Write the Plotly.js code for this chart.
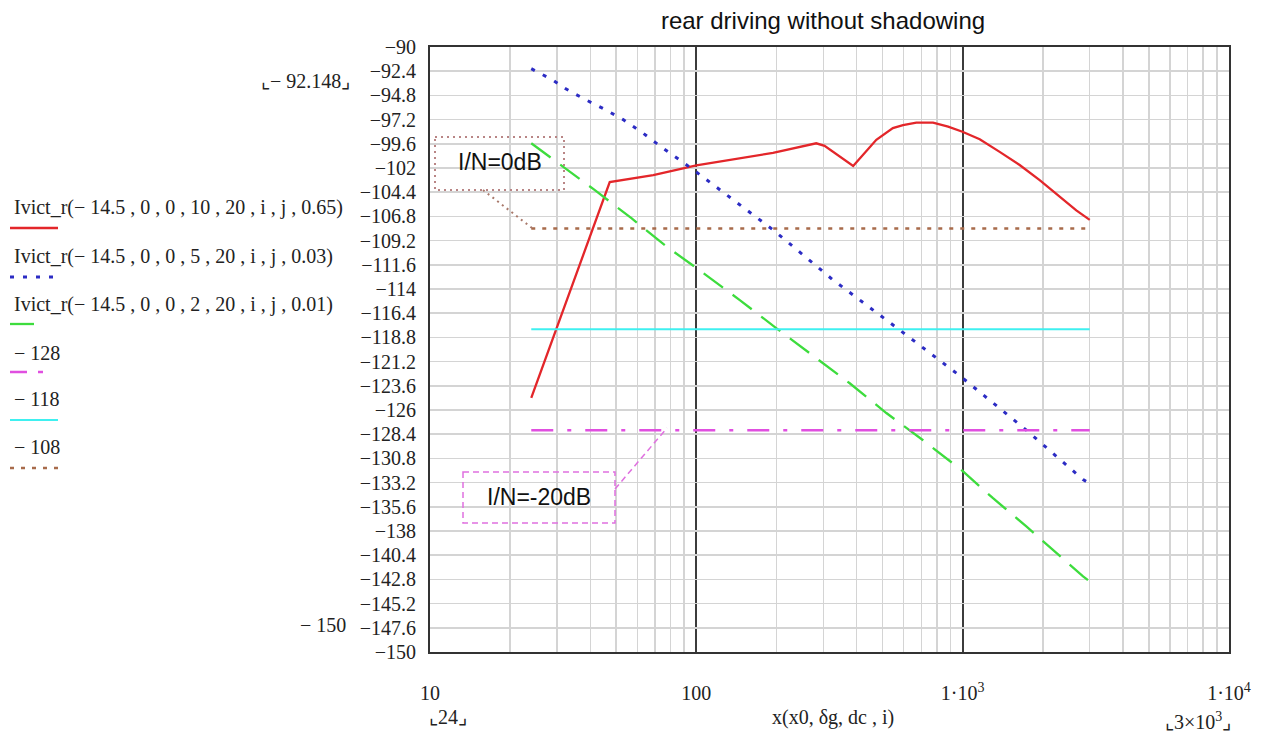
<!DOCTYPE html>
<html><head><meta charset="utf-8">
<script src="https://cdn.plot.ly/plotly-3.0.1.min.js"></script>
<style>html,body{margin:0;padding:0;background:#fff}</style>
</head><body>
<div id="chart" style="width:1271px;height:747px"></div>
<script>
// ---- data ----
const redX   = [24, 47.3, 68.9, 100, 194, 224, 282, 303, 388, 474, 547, 597, 670, 774, 882, 998, 1159, 1377, 1637, 1946, 2312, 2671, 3000];
const redY   = [-124.8, -103.4, -102.7, -101.75, -100.5, -100.15, -99.55, -99.8, -101.8, -99.2, -98.05, -97.75, -97.5, -97.5, -97.9, -98.4, -99.15, -100.4, -101.7, -103.2, -104.85, -106.2, -107.15];
const blueX  = [24, 29, 32.1, 37.6, 45.4, 53.1, 63.1, 75, 86.6, 100, 194.5, 326, 579, 975, 1734, 2832, 3000];
const blueY  = [-92.15, -93.3, -94.1, -95.1, -96.2, -97.2, -98.55, -100.05, -101.2, -102.4, -108.15, -113.1, -118.05, -122.6, -128.0, -132.9, -133.3];
const greenX = [24, 41.6, 57.2, 77.3, 100, 145.6, 200, 376.6, 517, 710, 989, 1300, 1734, 2248, 2832, 3000];
const greenY = [-99.55, -104.2, -107.0, -109.8, -111.9, -115.1, -117.9, -123.35, -126.3, -129.0, -131.95, -134.75, -137.55, -140.2, -142.5, -143.0];
const levels = [-128, -118, -108];
const levelX = [24, 3000];

const seriesNames = [
  'Ivict_r(− 14.5 , 0 , 0 , 10 , 20 , i , j , 0.65)',
  'Ivict_r(− 14.5 , 0 , 0 , 5 , 20 , i , j , 0.03)',
  'Ivict_r(− 14.5 , 0 , 0 , 2 , 20 , i , j , 0.01)',
  '− 128', '− 118', '− 108'
];
const xTickVals = [10, 100, 1000, 10000];
const xTickText = ['10', '100', '1·10<sup>3</sup>', '1·10<sup>4</sup>'];
const xMinorVals = [20,30,40,50,60,70,80,90,200,300,400,500,600,700,800,900,2000,3000,4000,5000,6000,7000,8000,9000];
const yTickVals = [-90,-92.4,-94.8,-97.2,-99.6,-102,-104.4,-106.8,-109.2,-111.6,-114,-116.4,-118.8,-121.2,-123.6,-126,-128.4,-130.8,-133.2,-135.6,-138,-140.4,-142.8,-145.2,-147.6,-150];
const yTickText = ['−90','−92.4','−94.8','−97.2','−99.6','−102','−104.4','−106.8','−109.2','−111.6','−114','−116.4','−118.8','−121.2','−123.6','−126','−128.4','−130.8','−133.2','−135.6','−138','−140.4','−142.8','−145.2','−147.6','−150'];

// ---- styles ----
const colors = ['#e3262a', '#2c2cc4', '#3ddc3d', '#e04fe0', '#3ff0f0', '#a86b4b'];
const dashes = ['solid', '4px,9px', '24px,12px', '22px,14px,4px,14px', 'solid', '4px,7px'];
const widths = [2.3, 3, 2.3, 2.5, 2, 2.5];

const L = 430, R = 1229, T = 47, B = 652, W = 1271, H = 747;
const px = x => (x - L) / (R - L);
const py = y => (B - y) / (B - T);

const traces = [
  {x: redX, y: redY},
  {x: blueX, y: blueY},
  {x: greenX, y: greenY},
  {x: levelX, y: [levels[0], levels[0]]},
  {x: levelX, y: [levels[1], levels[1]]},
  {x: levelX, y: [levels[2], levels[2]]}
].map((t, i) => ({
  x: t.x, y: t.y, type: 'scatter', mode: 'lines', name: seriesNames[i],
  line: {color: colors[i], width: widths[i], dash: dashes[i]}, showlegend: false
}));

const serif = 'Liberation Serif, Times New Roman, serif';
const sans = 'Liberation Sans, Arial, sans-serif';

const annotations = [];
const shapes = [];
const legTextY = [207, 256, 304, 353, 399, 447];
const legLineY = [228, 277, 324, 372, 420, 468];
const legLineX2 = [58, 57, 43, 43, 58, 58];
seriesNames.forEach((n, i) => {
  annotations.push({xref: 'paper', yref: 'paper', x: px(12), y: py(legTextY[i]), xanchor: 'left', yanchor: 'middle',
    text: n, showarrow: false, font: {family: serif, size: 20, color: '#222'}});
  shapes.push({type: 'line', xref: 'paper', yref: 'paper', x0: px(10), x1: px(legLineX2[i]), y0: py(legLineY[i]), y1: py(legLineY[i]),
    line: {color: colors[i], width: widths[i], dash: i === 3 ? '17px,11px,5px,20px' : dashes[i]}});
});

// Mathcad axis markers
annotations.push({xref:'paper', yref:'paper', x: px(352), y: py(81), xanchor:'right', yanchor:'middle', text:'⌞− 92.148⌟', showarrow:false, font:{family: serif, size: 20, color:'#222'}});
annotations.push({xref:'paper', yref:'paper', x: px(348), y: py(625), xanchor:'right', yanchor:'middle', text:'− 150', showarrow:false, font:{family: serif, size: 20, color:'#222'}});
annotations.push({xref:'paper', yref:'paper', x: px(427), y: py(717), xanchor:'left', yanchor:'middle', text:'⌞24⌟', showarrow:false, font:{family: serif, size: 20, color:'#222'}});
annotations.push({xref:'paper', yref:'paper', x: px(833), y: py(717), xanchor:'center', yanchor:'middle', text:'x(x0, δg, dc , i)', showarrow:false, font:{family: serif, size: 20, color:'#222'}});
annotations.push({xref:'paper', yref:'paper', x: px(1163), y: py(721), xanchor:'left', yanchor:'middle', text:'⌞3×10<sup>3</sup>⌟', showarrow:false, font:{family: serif, size: 20, color:'#222'}});

// callout boxes
shapes.push({type:'rect', xref:'paper', yref:'paper', x0: px(435), x1: px(564), y0: py(137), y1: py(190), line:{color:'#b98585', width:2, dash:'2px,4px'}, fillcolor:'rgba(0,0,0,0)'});
shapes.push({type:'line', xref:'paper', yref:'paper', x0: px(483), x1: px(532), y0: py(190), y1: py(228), line:{color:'#a8786a', width:2, dash:'2px,4px'}});
annotations.push({xref:'paper', yref:'paper', x: px(500), y: py(162), xanchor:'center', yanchor:'middle', text:'I/N=0dB', showarrow:false, font:{family: sans, size: 23, color:'#111'}});

shapes.push({type:'rect', xref:'paper', yref:'paper', x0: px(463), x1: px(615), y0: py(472), y1: py(523), line:{color:'#e070e0', width:1.5, dash:'6px,4px'}, fillcolor:'rgba(0,0,0,0)'});
shapes.push({type:'line', xref:'paper', yref:'paper', x0: px(615), x1: px(667), y0: py(489), y1: py(428), line:{color:'#e070e0', width:1.5, dash:'6px,4px'}});
annotations.push({xref:'paper', yref:'paper', x: px(539), y: py(497), xanchor:'center', yanchor:'middle', text:'I/N=-20dB', showarrow:false, font:{family: sans, size: 23, color:'#111'}});

const layout = {
  width: W, height: H,
  margin: {l: L, r: W - R, t: T, b: H - B, pad: 0},
  paper_bgcolor: '#fff', plot_bgcolor: '#fff',
  title: {text: 'rear driving without shadowing', xref: 'container', yref: 'container', x: 823 / W, y: 1 - 21 / H, xanchor: 'center', yanchor: 'middle',
    font: {family: sans, size: 24, color: '#111'}},
  xaxis: {
    type: 'log', range: [1, 4], tickmode: 'array', tickvals: xTickVals, ticktext: xTickText,
    showgrid: true, gridcolor: '#3c3c3c', gridwidth: 2,
    minor: {tickmode: 'array', tickvals: xMinorVals, showgrid: true, gridcolor: '#d4d4d4', gridwidth: 1.5, ticks: ''},
    showline: true, mirror: true, linecolor: '#333', linewidth: 2,
    ticks: 'outside', ticklen: 22, tickcolor: 'rgba(0,0,0,0)',
    tickfont: {family: serif, size: 20, color: '#222'}, zeroline: false
  },
  yaxis: {
    range: [-150, -90], tickmode: 'array', tickvals: yTickVals, ticktext: yTickText,
    showgrid: true, gridcolor: '#d4d4d4', gridwidth: 1.5,
    showline: true, mirror: true, linecolor: '#333', linewidth: 2,
    ticks: 'outside', ticklen: 8, tickcolor: 'rgba(0,0,0,0)',
    tickfont: {family: serif, size: 20, color: '#222'}, zeroline: false
  },
  annotations: annotations,
  shapes: shapes,
  showlegend: false
};

Plotly.newPlot('chart', traces, layout, {displayModeBar: false, staticPlot: true});
</script>
</body></html>
